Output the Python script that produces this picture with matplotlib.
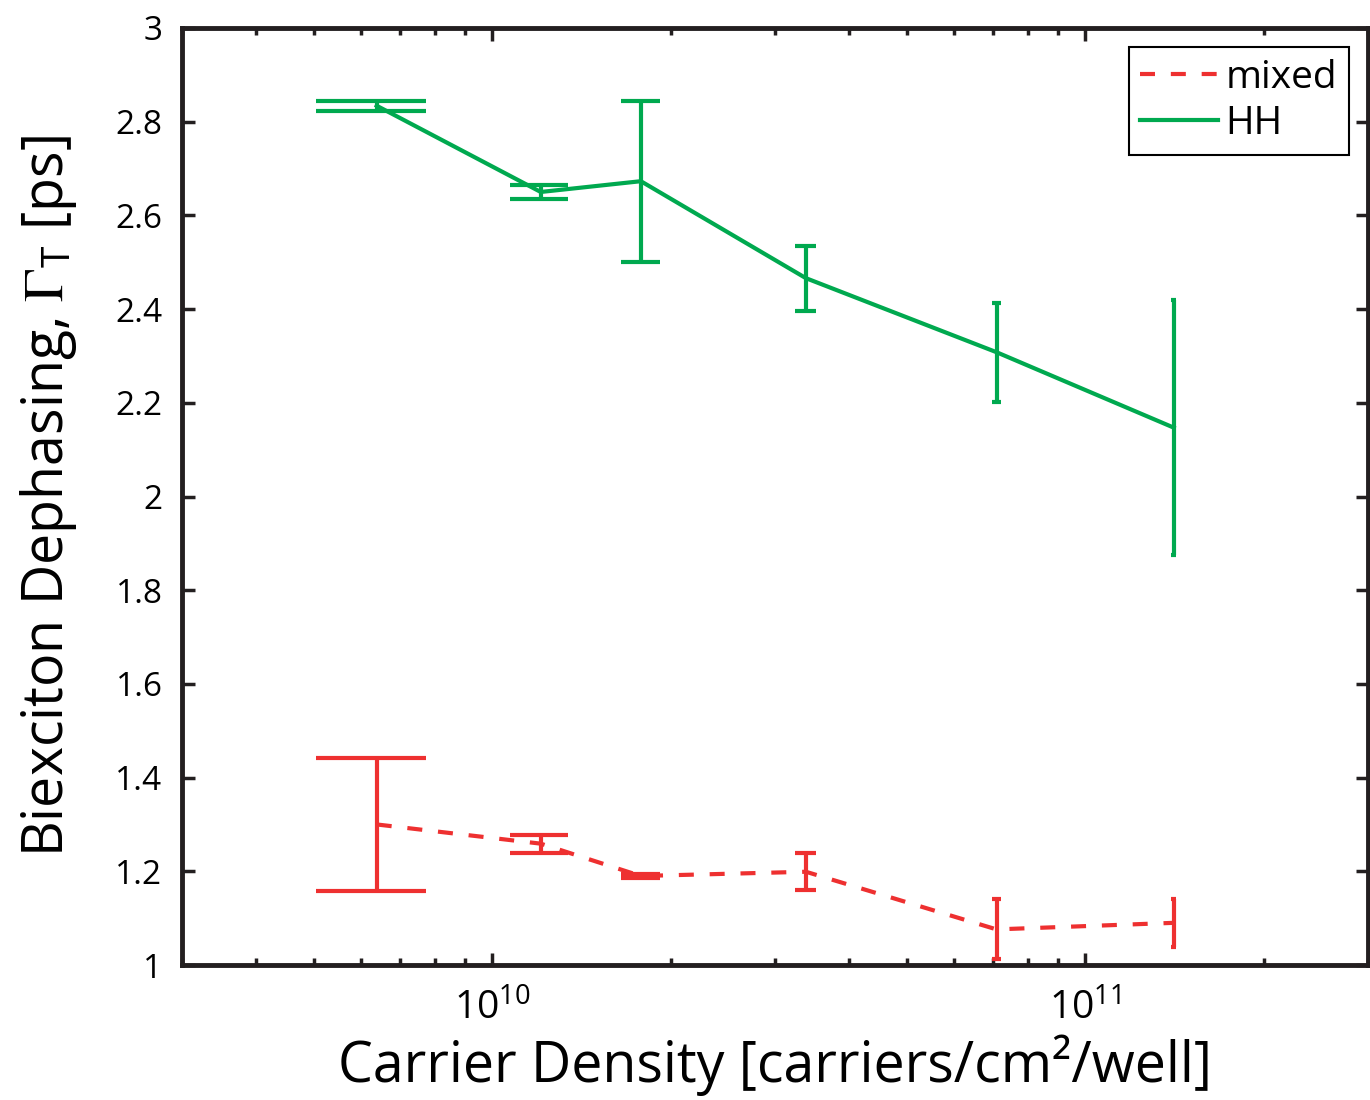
import matplotlib
matplotlib.use("Agg")
import matplotlib.pyplot as plt
import numpy as np
from matplotlib.ticker import LogLocator, NullFormatter

# ---- data ----
density = [6.39e9, 1.208e10, 1.782e10, 3.383e10, 7.09e10, 1.411e11]
hh = [2.834, 2.650, 2.673, 2.466, 2.308, 2.147]
hh_err = [0.011, 0.0145, 0.172, 0.0695, 0.106, 0.2715]
mixed = [1.300, 1.259, 1.190, 1.199, 1.076, 1.090]
mixed_err = [0.142, 0.019, 0.005, 0.039, 0.064, 0.0515]
series_labels = ["mixed", "HH"]
ytick_vals = [1, 1.2, 1.4, 1.6, 1.8, 2, 2.2, 2.4, 2.6, 2.8, 3]
ytick_labels = ["1", "1.2", "1.4", "1.6", "1.8", "2", "2.2", "2.4", "2.6", "2.8", "3"]
xtick_vals = [1e10, 1e11]
xtick_labels = [r"$\mathregular{10^{10}}$", r"$\mathregular{10^{11}}$"]

GREEN = "#00a94f"
RED = "#ee3030"
DARK = "#231f20"

plt.rcParams["font.family"] = ["Open Sans", "DejaVu Sans"]
plt.rcParams["mathtext.fontset"] = "stix"

fig = plt.figure(figsize=(13.7, 11), dpi=100)
ax = fig.add_axes([182/1370, 135/1100, (1368-182)/1370, (965-28)/1100])

x = np.array(density)
tee = (x.max() - x.min()) / 100.0

# mixed
ax.errorbar(x, mixed, yerr=mixed_err, fmt="none", ecolor=RED, elinewidth=3, capsize=0, zorder=3)
lo = np.array(mixed) - np.array(mixed_err)
hi = np.array(mixed) + np.array(mixed_err)
ax.hlines(np.concatenate([lo, hi]), np.concatenate([x - tee, x - tee]),
          np.concatenate([x + tee, x + tee]), colors=RED, linewidth=3, zorder=3)
l1, = ax.plot(x, mixed, color=RED, lw=3, linestyle=(0, (3.6, 3.8)), label=series_labels[0], zorder=4)

# HH
ax.errorbar(x, hh, yerr=hh_err, fmt="none", ecolor=GREEN, elinewidth=3, capsize=0, zorder=3)
lo = np.array(hh) - np.array(hh_err)
hi = np.array(hh) + np.array(hh_err)
ax.hlines(np.concatenate([lo, hi]), np.concatenate([x - tee, x - tee]),
          np.concatenate([x + tee, x + tee]), colors=GREEN, linewidth=3, zorder=3)
l2, = ax.plot(x, hh, color=GREEN, lw=3, linestyle="-", label=series_labels[1], zorder=4)

ax.set_xscale("log")
ax.set_xlim(3e9, 3e11)
ax.set_ylim(1, 3)
ax.set_yticks(ytick_vals)
ax.set_yticklabels(ytick_labels)
ax.set_xticks(xtick_vals)
ax.set_xticklabels(xtick_labels)
ax.xaxis.set_minor_locator(LogLocator(base=10, subs=np.arange(2, 10), numticks=20))
ax.xaxis.set_minor_formatter(NullFormatter())

for s in ax.spines.values():
    s.set_linewidth(3.5)
    s.set_color(DARK)

ax.tick_params(axis="both", which="major", direction="in", length=9, width=2.5,
               color=DARK, labelsize=24, top=True, right=True, labelcolor="black")
ax.tick_params(axis="y", which="major", pad=14)
ax.tick_params(axis="x", which="major", pad=18, labelsize=28)
ax.tick_params(axis="x", which="minor", direction="in", length=5, width=2.5,
               color=DARK, top=True)

ax.set_xlabel("Carrier Density [carriers/cm\u00b2/well]", fontsize=40, labelpad=4)
ax.set_ylabel(r"Biexciton Dephasing, $\Gamma_{\mathregular{T}}$ [ps]", fontsize=40, labelpad=26)

leg = ax.legend(handles=[l1, l2], loc="upper right", fontsize=28, frameon=True,
                fancybox=False, shadow=False, framealpha=1, edgecolor="black",
                handlelength=2.0, handletextpad=0.18, borderpad=0.3,
                labelspacing=0.2, borderaxespad=0.5)
leg.get_frame().set_linewidth(1.5)

fig.savefig("out.png", dpi=100)
